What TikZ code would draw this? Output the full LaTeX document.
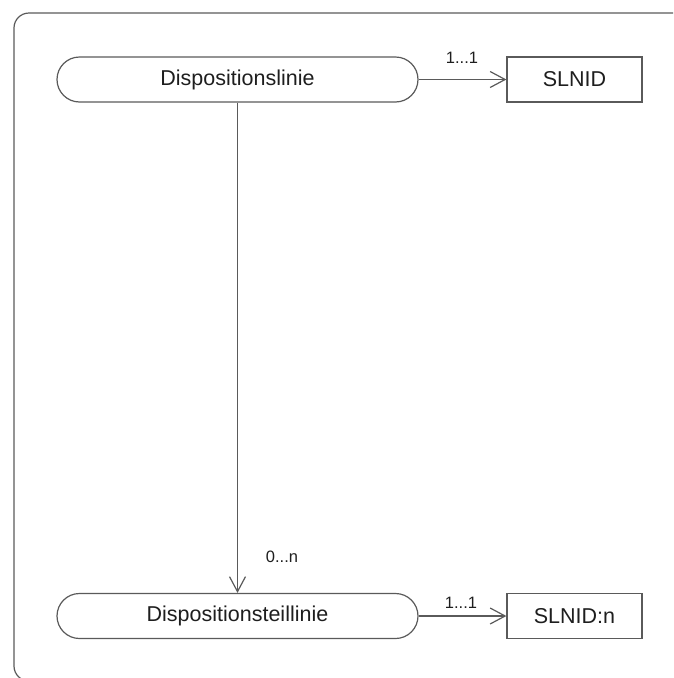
\documentclass[tikz,border=0pt]{standalone}
\usepackage{fontspec}
\setmainfont{Liberation Sans}
\usetikzlibrary{arrows.meta}
\definecolor{edge}{RGB}{90,90,90}
\definecolor{ink}{RGB}{30,30,30}
\begin{document}
\begin{tikzpicture}[x=1pt,y=-1pt,
  line width=1.2pt,
  entity/.style={draw=edge, minimum width=361pt, minimum height=45pt,
    rounded corners=22.5pt, font=\fontsize{21.5}{25}\selectfont, text=ink, inner sep=0pt},
  idbox/.style={draw=edge, minimum width=135pt, minimum height=45pt,
    font=\fontsize{21.5}{25}\selectfont, text=ink, inner sep=0pt},
  card/.style={font=\fontsize{16.5}{19}\selectfont, text=ink, inner sep=0pt},
  link/.style={draw=edge, -{Straight Barb[length=15pt,width=16pt,line width=1.2pt]}}]
  \useasboundingbox (0,0) rectangle (673,678);
  \clip (0,0) rectangle (673,678);
  % enclosing frame
  \draw[edge, rounded corners=15pt] (14,13) rectangle (720,681);
  % entities
  \node[entity] (dl)  at (237.5,79.5) {Dispositionslinie};
  \node[idbox]  (id1) at (574.5,79.5) {SLNID};
  \node[entity] (dtl) at (237.5,616) {Dispositionsteillinie};
  \node[idbox]  (id2) at (574.5,616) {SLNID:n};
  % relations
  \draw[link] (dl.east) -- (id1.west);
  \draw[link] (dl.south) -- (dtl.north);
  \draw[link] (dtl.east) -- (id2.west);
  % cardinalities
  \node[card] (c1) at (462,58) {1...1};
  \node[card] (c2) at (282,557) {0...n};
  \node[card] (c3) at (461,603) {1...1};
\end{tikzpicture}
\end{document}
